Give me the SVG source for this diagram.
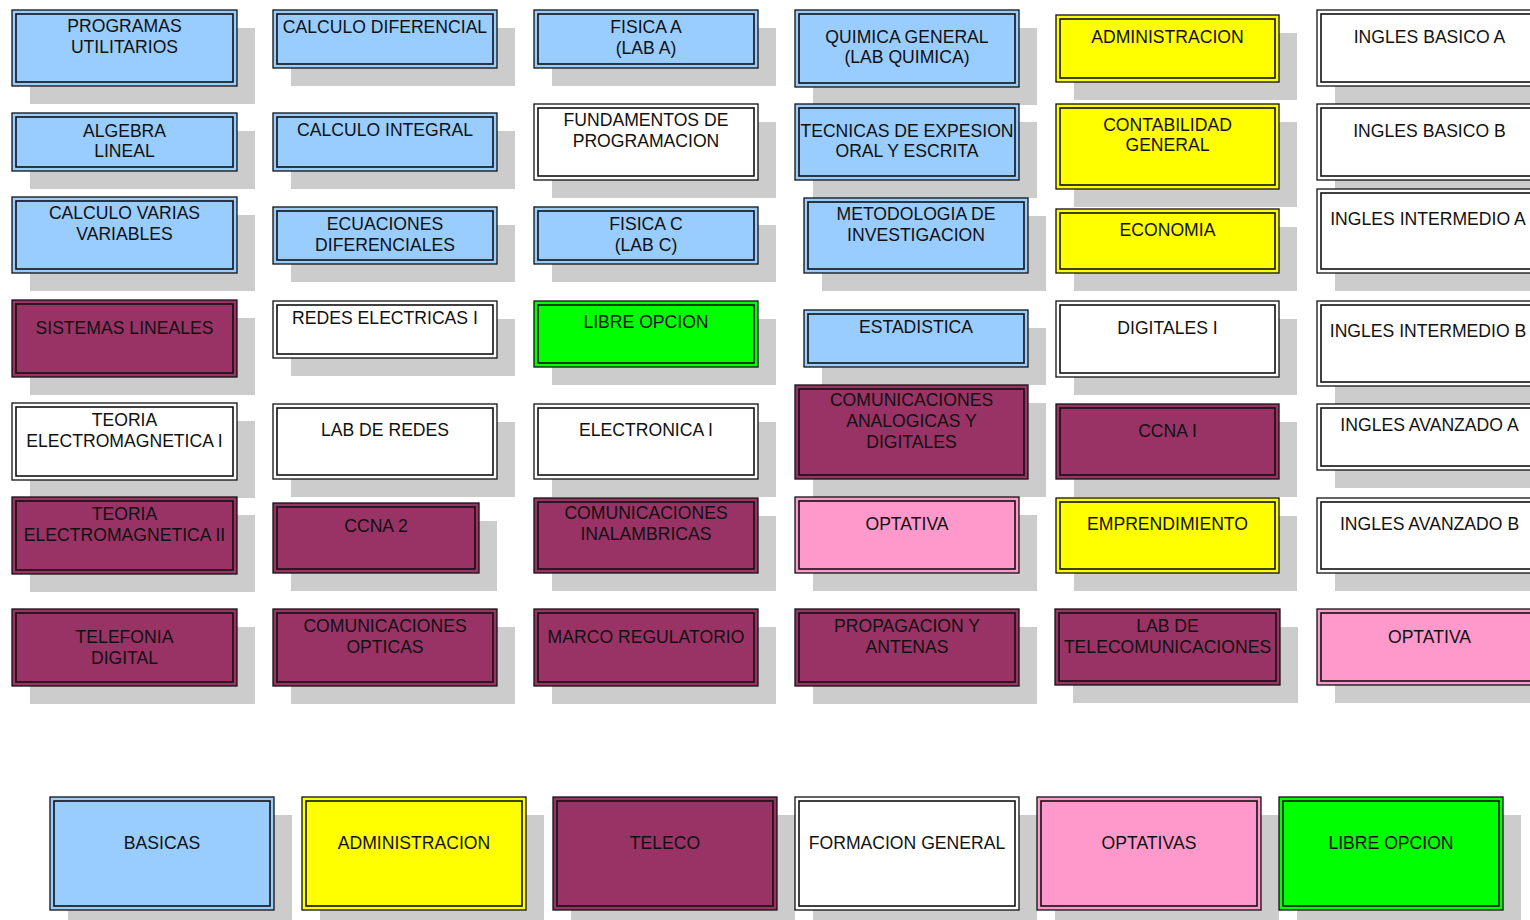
<svg xmlns="http://www.w3.org/2000/svg" width="1530" height="920" viewBox="0 0 1530 920">
<style>
.sh{fill:#cccccc}
.o{stroke:#111;stroke-width:1.3}
.i{fill:none;stroke:#111;stroke-width:1.6}
.b{fill:#99ccff}.y{fill:#ffff00}.p{fill:#993366}.w{fill:#ffffff}.k{fill:#ff99cc}.g{fill:#00ff00}
text{font-family:"Liberation Sans",Arial,sans-serif;font-size:17.6px;fill:#111;text-anchor:middle}
</style>
<rect width="1530" height="920" fill="#fff"/>
<!-- Column 1 -->
<g id="programas-utilitarios"><rect class="sh" x="30" y="28" width="225" height="76"/><rect class="o b" x="12" y="10" width="225" height="76"/><rect class="i" x="16" y="14" width="217" height="68"/><text x="124.5" y="32">PROGRAMAS</text><text x="124.5" y="52.5">UTILITARIOS</text></g>
<g id="algebra-lineal"><rect class="sh" x="30" y="131" width="225" height="58"/><rect class="o b" x="12" y="113" width="225" height="58"/><rect class="i" x="16" y="117" width="217" height="50"/><text x="124.5" y="137">ALGEBRA</text><text x="124.5" y="157">LINEAL</text></g>
<g id="calculo-varias"><rect class="sh" x="30" y="215" width="225" height="76"/><rect class="o b" x="12" y="197" width="225" height="76"/><rect class="i" x="16" y="201" width="217" height="68"/><text x="124.5" y="219">CALCULO VARIAS</text><text x="124.5" y="240">VARIABLES</text></g>
<g id="sistemas-lineales"><rect class="sh" x="30" y="318" width="225" height="77"/><rect class="o p" x="12" y="300" width="225" height="77"/><rect class="i" x="16" y="304" width="217" height="69"/><text x="124.5" y="333.5">SISTEMAS LINEALES</text></g>
<g id="teoria-em-1"><rect class="sh" x="30" y="421" width="225" height="77"/><rect class="o w" x="12" y="403" width="225" height="77"/><rect class="i" x="16" y="407" width="217" height="69"/><text x="124.5" y="426">TEORIA</text><text x="124.5" y="447">ELECTROMAGNETICA I</text></g>
<g id="teoria-em-2"><rect class="sh" x="30" y="515" width="225" height="77"/><rect class="o p" x="12" y="497" width="225" height="77"/><rect class="i" x="16" y="501" width="217" height="69"/><text x="124.5" y="520">TEORIA</text><text x="124.5" y="541">ELECTROMAGNETICA II</text></g>
<g id="telefonia-digital"><rect class="sh" x="30" y="627" width="225" height="77"/><rect class="o p" x="12" y="609" width="225" height="77"/><rect class="i" x="16" y="613" width="217" height="69"/><text x="124.5" y="643">TELEFONIA</text><text x="124.5" y="664">DIGITAL</text></g>
<!-- Column 2 -->
<g id="calculo-diferencial"><rect class="sh" x="291" y="28" width="224" height="58"/><rect class="o b" x="273" y="10" width="224" height="58"/><rect class="i" x="277" y="14" width="216" height="50"/><text x="385" y="33">CALCULO DIFERENCIAL</text></g>
<g id="calculo-integral"><rect class="sh" x="291" y="131" width="224" height="58"/><rect class="o b" x="273" y="113" width="224" height="58"/><rect class="i" x="277" y="117" width="216" height="50"/><text x="385" y="136">CALCULO INTEGRAL</text></g>
<g id="ecuaciones-diferenciales"><rect class="sh" x="291" y="225" width="224" height="57"/><rect class="o b" x="273" y="207" width="224" height="57"/><rect class="i" x="277" y="211" width="216" height="49"/><text x="385" y="230">ECUACIONES</text><text x="385" y="251">DIFERENCIALES</text></g>
<g id="redes-electricas-1"><rect class="sh" x="291" y="319" width="224" height="57"/><rect class="o w" x="273" y="301" width="224" height="57"/><rect class="i" x="277" y="305" width="216" height="49"/><text x="385" y="324">REDES ELECTRICAS I</text></g>
<g id="lab-de-redes"><rect class="sh" x="291" y="422" width="224" height="75"/><rect class="o w" x="273" y="404" width="224" height="75"/><rect class="i" x="277" y="408" width="216" height="67"/><text x="385" y="436">LAB DE REDES</text></g>
<g id="ccna-2"><rect class="sh" x="291" y="521" width="206" height="70"/><rect class="o p" x="273" y="503" width="206" height="70"/><rect class="i" x="277" y="507" width="198" height="62"/><text x="376" y="532">CCNA 2</text></g>
<g id="comunicaciones-opticas"><rect class="sh" x="291" y="627" width="224" height="77"/><rect class="o p" x="273" y="609" width="224" height="77"/><rect class="i" x="277" y="613" width="216" height="69"/><text x="385" y="632">COMUNICACIONES</text><text x="385" y="653">OPTICAS</text></g>
<!-- Column 3 -->
<g id="fisica-a"><rect class="sh" x="552" y="28" width="224" height="58"/><rect class="o b" x="534" y="10" width="224" height="58"/><rect class="i" x="538" y="14" width="216" height="50"/><text x="646" y="33">FISICA A</text><text x="646" y="54">(LAB A)</text></g>
<g id="fundamentos-programacion"><rect class="sh" x="552" y="122" width="224" height="76"/><rect class="o w" x="534" y="104" width="224" height="76"/><rect class="i" x="538" y="108" width="216" height="68"/><text x="646" y="126">FUNDAMENTOS DE</text><text x="646" y="147">PROGRAMACION</text></g>
<g id="fisica-c"><rect class="sh" x="552" y="225" width="224" height="57"/><rect class="o b" x="534" y="207" width="224" height="57"/><rect class="i" x="538" y="211" width="216" height="49"/><text x="646" y="230">FISICA C</text><text x="646" y="251">(LAB C)</text></g>
<g id="libre-opcion"><rect class="sh" x="552" y="319" width="224" height="66"/><rect class="o g" x="534" y="301" width="224" height="66"/><rect class="i" x="538" y="305" width="216" height="58"/><text x="646" y="328">LIBRE OPCION</text></g>
<g id="electronica-1"><rect class="sh" x="552" y="422" width="224" height="75"/><rect class="o w" x="534" y="404" width="224" height="75"/><rect class="i" x="538" y="408" width="216" height="67"/><text x="646" y="436">ELECTRONICA I</text></g>
<g id="comunicaciones-inalambricas"><rect class="sh" x="552" y="516" width="224" height="75"/><rect class="o p" x="534" y="498" width="224" height="75"/><rect class="i" x="538" y="502" width="216" height="67"/><text x="646" y="519">COMUNICACIONES</text><text x="646" y="540">INALAMBRICAS</text></g>
<g id="marco-regulatorio"><rect class="sh" x="552" y="627" width="224" height="77"/><rect class="o p" x="534" y="609" width="224" height="77"/><rect class="i" x="538" y="613" width="216" height="69"/><text x="646" y="643">MARCO REGULATORIO</text></g>
<!-- Column 4 -->
<g id="quimica-general"><rect class="sh" x="813" y="28" width="224" height="77"/><rect class="o b" x="795" y="10" width="224" height="77"/><rect class="i" x="799" y="14" width="216" height="69"/><text x="907" y="43">QUIMICA GENERAL</text><text x="907" y="63">(LAB QUIMICA)</text></g>
<g id="tecnicas-expresion"><rect class="sh" x="813" y="122" width="224" height="76"/><rect class="o b" x="795" y="104" width="224" height="76"/><rect class="i" x="799" y="108" width="216" height="68"/><text x="907" y="137">TECNICAS DE EXPESION</text><text x="907" y="157">ORAL Y ESCRITA</text></g>
<g id="metodologia-investigacion"><rect class="sh" x="822" y="216" width="224" height="75"/><rect class="o b" x="804" y="198" width="224" height="75"/><rect class="i" x="808" y="202" width="216" height="67"/><text x="916" y="220">METODOLOGIA DE</text><text x="916" y="241">INVESTIGACION</text></g>
<g id="estadistica"><rect class="sh" x="822" y="328" width="224" height="57"/><rect class="o b" x="804" y="310" width="224" height="57"/><rect class="i" x="808" y="314" width="216" height="49"/><text x="916" y="333">ESTADISTICA</text></g>
<g id="comunicaciones-analogicas"><rect class="sh" x="813" y="403" width="233" height="94"/><rect class="o p" x="795" y="385" width="233" height="94"/><rect class="i" x="799" y="389" width="225" height="86"/><text x="911.5" y="406">COMUNICACIONES</text><text x="911.5" y="427">ANALOGICAS Y</text><text x="911.5" y="448">DIGITALES</text></g>
<g id="optativa-1"><rect class="sh" x="813" y="515" width="224" height="76"/><rect class="o k" x="795" y="497" width="224" height="76"/><rect class="i" x="799" y="501" width="216" height="68"/><text x="907" y="530">OPTATIVA</text></g>
<g id="propagacion-antenas"><rect class="sh" x="813" y="627" width="224" height="77"/><rect class="o p" x="795" y="609" width="224" height="77"/><rect class="i" x="799" y="613" width="216" height="69"/><text x="907" y="632">PROPAGACION Y</text><text x="907" y="653">ANTENAS</text></g>
<!-- Column 5 -->
<g id="administracion"><rect class="sh" x="1074" y="33" width="223" height="67"/><rect class="o y" x="1056" y="15" width="223" height="67"/><rect class="i" x="1060" y="19" width="215" height="59"/><text x="1167.5" y="43">ADMINISTRACION</text></g>
<g id="contabilidad-general"><rect class="sh" x="1074" y="122" width="223" height="85"/><rect class="o y" x="1056" y="104" width="223" height="85"/><rect class="i" x="1060" y="108" width="215" height="77"/><text x="1167.5" y="130.5">CONTABILIDAD</text><text x="1167.5" y="151">GENERAL</text></g>
<g id="economia"><rect class="sh" x="1074" y="227" width="223" height="64"/><rect class="o y" x="1056" y="209" width="223" height="64"/><rect class="i" x="1060" y="213" width="215" height="56"/><text x="1167.5" y="236">ECONOMIA</text></g>
<g id="digitales-1"><rect class="sh" x="1074" y="319" width="223" height="76"/><rect class="o w" x="1056" y="301" width="223" height="76"/><rect class="i" x="1060" y="305" width="215" height="68"/><text x="1167.5" y="334">DIGITALES I</text></g>
<g id="ccna-1"><rect class="sh" x="1074" y="422" width="223" height="75"/><rect class="o p" x="1056" y="404" width="223" height="75"/><rect class="i" x="1060" y="408" width="215" height="67"/><text x="1167.5" y="437">CCNA I</text></g>
<g id="emprendimiento"><rect class="sh" x="1074" y="516" width="223" height="75"/><rect class="o y" x="1056" y="498" width="223" height="75"/><rect class="i" x="1060" y="502" width="215" height="67"/><text x="1167.5" y="530">EMPRENDIMIENTO</text></g>
<g id="lab-telecomunicaciones"><rect class="sh" x="1073" y="627" width="225" height="76"/><rect class="o p" x="1055" y="609" width="225" height="76"/><rect class="i" x="1059" y="613" width="217" height="68"/><text x="1167.5" y="632">LAB DE</text><text x="1167.5" y="653">TELECOMUNICACIONES</text></g>
<!-- Column 6 -->
<g id="ingles-basico-a"><rect class="sh" x="1335" y="28" width="225" height="76"/><rect class="o w" x="1317" y="10" width="225" height="76"/><rect class="i" x="1321" y="14" width="217" height="68"/><text x="1429.5" y="43">INGLES BASICO A</text></g>
<g id="ingles-basico-b"><rect class="sh" x="1335" y="122" width="225" height="76"/><rect class="o w" x="1317" y="104" width="225" height="76"/><rect class="i" x="1321" y="108" width="217" height="68"/><text x="1429.5" y="137">INGLES BASICO B</text></g>
<g id="ingles-intermedio-a"><rect class="sh" x="1335" y="207" width="225" height="84"/><rect class="o w" x="1317" y="189" width="225" height="84"/><rect class="i" x="1321" y="193" width="217" height="76"/><text x="1428" y="225">INGLES INTERMEDIO A</text></g>
<g id="ingles-intermedio-b"><rect class="sh" x="1335" y="319" width="225" height="85"/><rect class="o w" x="1317" y="301" width="225" height="85"/><rect class="i" x="1321" y="305" width="217" height="77"/><text x="1428" y="337">INGLES INTERMEDIO B</text></g>
<g id="ingles-avanzado-a"><rect class="sh" x="1335" y="422" width="225" height="66"/><rect class="o w" x="1317" y="404" width="225" height="66"/><rect class="i" x="1321" y="408" width="217" height="58"/><text x="1429.5" y="431">INGLES AVANZADO A</text></g>
<g id="ingles-avanzado-b"><rect class="sh" x="1335" y="516" width="225" height="75"/><rect class="o w" x="1317" y="498" width="225" height="75"/><rect class="i" x="1321" y="502" width="217" height="67"/><text x="1429.5" y="530">INGLES AVANZADO B</text></g>
<g id="optativa-2"><rect class="sh" x="1335" y="627" width="225" height="76"/><rect class="o k" x="1317" y="609" width="225" height="76"/><rect class="i" x="1321" y="613" width="217" height="68"/><text x="1429.5" y="643">OPTATIVA</text></g>
<!-- Legend -->
<g id="legend-basicas"><rect class="sh" x="68" y="815" width="224" height="113"/><rect class="o b" x="50" y="797" width="224" height="113"/><rect class="i" x="54" y="801" width="216" height="105"/><text x="162" y="849">BASICAS</text></g>
<g id="legend-administracion"><rect class="sh" x="320" y="815" width="224" height="113"/><rect class="o y" x="302" y="797" width="224" height="113"/><rect class="i" x="306" y="801" width="216" height="105"/><text x="414" y="849">ADMINISTRACION</text></g>
<g id="legend-teleco"><rect class="sh" x="571" y="815" width="224" height="113"/><rect class="o p" x="553" y="797" width="224" height="113"/><rect class="i" x="557" y="801" width="216" height="105"/><text x="665" y="849">TELECO</text></g>
<g id="legend-formacion-general"><rect class="sh" x="813" y="815" width="224" height="113"/><rect class="o w" x="795" y="797" width="224" height="113"/><rect class="i" x="799" y="801" width="216" height="105"/><text x="907" y="849">FORMACION GENERAL</text></g>
<g id="legend-optativas"><rect class="sh" x="1055" y="815" width="224" height="113"/><rect class="o k" x="1037" y="797" width="224" height="113"/><rect class="i" x="1041" y="801" width="216" height="105"/><text x="1149" y="849">OPTATIVAS</text></g>
<g id="legend-libre-opcion"><rect class="sh" x="1297" y="815" width="224" height="113"/><rect class="o g" x="1279" y="797" width="224" height="113"/><rect class="i" x="1283" y="801" width="216" height="105"/><text x="1391" y="849">LIBRE OPCION</text></g>
</svg>
